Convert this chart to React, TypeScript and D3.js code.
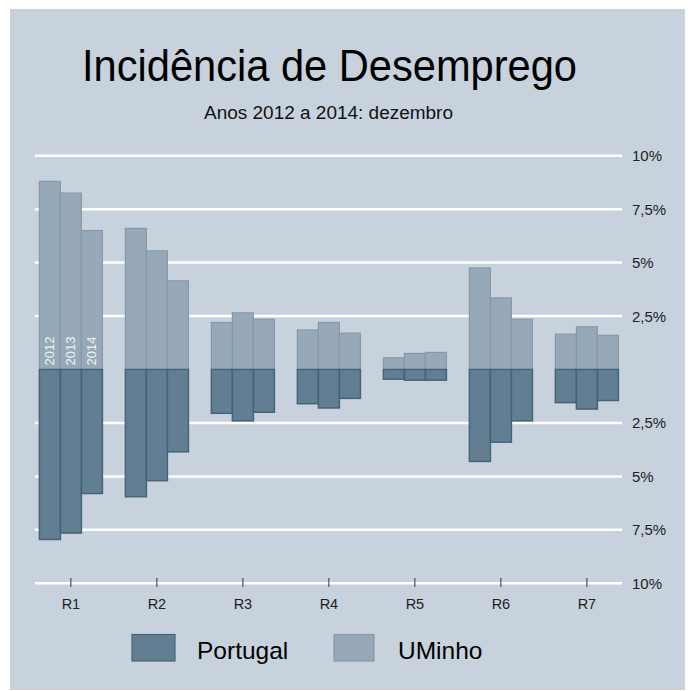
import React, { useEffect, useRef } from 'react';
import * as d3 from 'd3';

const regions = ['R1', 'R2', 'R3', 'R4', 'R5', 'R6', 'R7'];
const years = ['2012', '2013', '2014'];
// values in %, one row per region, columns = years
const uminho = [
  [8.8, 8.25, 6.5],
  [6.6, 5.55, 4.15],
  [2.2, 2.65, 2.35],
  [1.85, 2.2, 1.7],
  [0.55, 0.75, 0.8],
  [4.75, 3.35, 2.35],
  [1.65, 2.0, 1.6],
];
const portugal = [
  [7.95, 7.65, 5.8],
  [5.95, 5.2, 3.85],
  [2.05, 2.4, 2.0],
  [1.6, 1.8, 1.35],
  [0.45, 0.5, 0.5],
  [4.3, 3.4, 2.4],
  [1.55, 1.85, 1.45],
];
const yTicks = [-10, -7.5, -5, -2.5, 2.5, 5, 7.5, 10];

const BG = '#c7d2dd';
const PT_FILL = '#627e92';
const PT_STROKE = '#46637a';
const UM_FILL = '#97a8b8';
const UM_STROKE = '#8699ac';

function Chart() {
  const svgRef = useRef(null);

  useEffect(() => {
    const svg = d3.select(svgRef.current);
    svg.selectAll('*').remove();
    // work in page coordinates (body margin is 8px)
    const g = svg.append('g').attr('transform', 'translate(-8,-8)');
    const font = 'Liberation Sans, Arial, sans-serif';

    g.append('rect')
      .attr('x', 10).attr('y', 9)
      .attr('width', 683).attr('height', 681)
      .attr('fill', BG);

    g.append('text')
      .attr('x', 82).attr('y', 81)
      .attr('textLength', 495).attr('lengthAdjust', 'spacingAndGlyphs')
      .style('font-family', font).style('font-size', '45px')
      .attr('fill', '#000')
      .text('Incidência de Desemprego');

    g.append('text')
      .attr('x', 204).attr('y', 119)
      .attr('textLength', 249).attr('lengthAdjust', 'spacingAndGlyphs')
      .style('font-family', font).style('font-size', '17.5px')
      .attr('fill', '#111')
      .text('Anos 2012 a 2014: dezembro');

    const xScale = d3.scaleBand()
      .domain(regions)
      .range([27.9, 629.9])
      .paddingInner(0.267)
      .paddingOuter(0.1335);

    const xYear = d3.scaleBand()
      .domain(years)
      .range([0, xScale.bandwidth()]);

    const yScale = d3.scaleLinear()
      .domain([-10, 10])
      .range([583.3, 155.7]);

    const fmt = (v) => String(Math.abs(v)).replace('.', ',') + '%';

    // gridlines
    g.append('g').selectAll('line')
      .data(yTicks)
      .enter().append('line')
      .attr('x1', 35).attr('x2', 622)
      .attr('y1', d => yScale(d)).attr('y2', d => yScale(d))
      .attr('stroke', '#fff').attr('stroke-width', 2.5);

    g.append('g').selectAll('text')
      .data(yTicks)
      .enter().append('text')
      .attr('x', 632)
      .attr('y', d => yScale(d) + 5.5)
      .style('font-family', font).style('font-size', '15px')
      .attr('fill', '#222')
      .text(d => fmt(d));

    // x ticks and labels
    const xa = g.append('g');
    xa.selectAll('line')
      .data(regions)
      .enter().append('line')
      .attr('x1', d => xScale(d) + xScale.bandwidth() / 2)
      .attr('x2', d => xScale(d) + xScale.bandwidth() / 2)
      .attr('y1', 578).attr('y2', 587)
      .attr('stroke', '#333').attr('stroke-width', 1);
    xa.selectAll('text')
      .data(regions)
      .enter().append('text')
      .attr('x', d => xScale(d) + xScale.bandwidth() / 2)
      .attr('y', 609)
      .attr('text-anchor', 'middle')
      .style('font-family', font).style('font-size', '14.5px')
      .attr('fill', '#222')
      .text(d => d);

    const flat = [];
    regions.forEach((r, i) => {
      years.forEach((yr, j) => {
        flat.push({ region: r, year: yr, um: uminho[i][j], pt: portugal[i][j] });
      });
    });

    const zero = yScale(0);

    // UMinho bars (up)
    g.append('g').selectAll('rect')
      .data(flat)
      .enter().append('rect')
      .attr('x', d => xScale(d.region) + xYear(d.year))
      .attr('y', d => yScale(d.um))
      .attr('width', xYear.bandwidth())
      .attr('height', d => zero - yScale(d.um))
      .attr('fill', UM_FILL)
      .attr('stroke', UM_STROKE).attr('stroke-width', 1.2);

    // Portugal bars (down)
    g.append('g').selectAll('rect')
      .data(flat)
      .enter().append('rect')
      .attr('x', d => xScale(d.region) + xYear(d.year))
      .attr('y', zero)
      .attr('width', xYear.bandwidth())
      .attr('height', d => yScale(-d.pt) - zero)
      .attr('fill', PT_FILL)
      .attr('stroke', PT_STROKE).attr('stroke-width', 1.5);

    // year labels inside first group
    g.append('g').selectAll('text')
      .data(years)
      .enter().append('text')
      .attr('transform', d => {
        const cx = xScale(regions[0]) + xYear(d) + xYear.bandwidth() / 2 + 4.5;
        return `translate(${cx},${zero - 4}) rotate(-90)`;
      })
      .style('font-family', font).style('font-size', '13px')
      .attr('fill', '#eef2f6')
      .text(d => d);

    // legend
    const legend = [
      { label: 'Portugal', fill: PT_FILL, stroke: PT_STROKE, x: 132, w: 43, tx: 197 },
      { label: 'UMinho', fill: UM_FILL, stroke: UM_STROKE, x: 334, w: 40, tx: 398 },
    ];
    const lg = g.append('g').selectAll('g')
      .data(legend)
      .enter().append('g');
    lg.append('rect')
      .attr('x', d => d.x).attr('y', 634.5)
      .attr('width', d => d.w).attr('height', 26.5)
      .attr('fill', d => d.fill)
      .attr('stroke', d => d.stroke).attr('stroke-width', 1.2);
    lg.append('text')
      .attr('x', d => d.tx).attr('y', 659)
      .style('font-family', font).style('font-size', '24.5px')
      .attr('fill', '#000')
      .text(d => d.label);
  }, []);

  return <svg ref={svgRef} width={685} height={683} style={{ display: 'block' }}></svg>;
}

export default function App() {
  return <Chart />;
}
